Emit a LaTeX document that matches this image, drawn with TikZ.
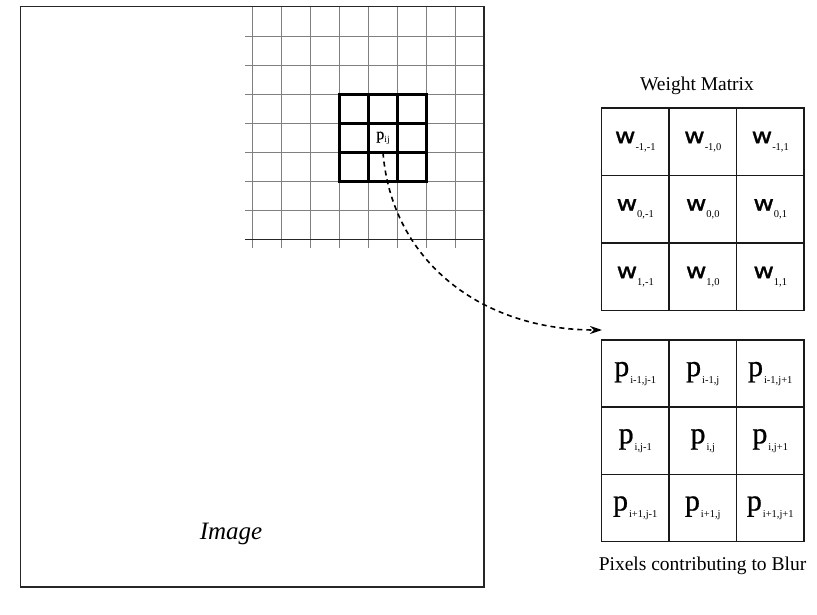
\documentclass[tikz,border=0pt]{standalone}
\usepackage{fontspec}
\setmainfont{Liberation Serif}
\newfontfamily\wfont[FakeBold=1.2]{DejaVu Sans}
\newfontfamily\pfont[FakeBold=0.8]{Liberation Serif}
\usetikzlibrary{arrows.meta}
\newcommand{\wlab}[1]{{\wfont\fontsize{21}{21}\selectfont\scalebox{1.2}[1]{w}}\raisebox{-7pt}{\fontsize{10.5}{10.5}\selectfont #1}}
\newcommand{\plab}[1]{{\pfont\fontsize{30}{30}\selectfont p}\kern1pt\raisebox{-7pt}{\fontsize{10.5}{10.5}\selectfont #1}}
\tikzset{
  frame/.style={draw=black!85, line width=1.5pt},
  gridline/.style={draw=black!50, line width=1.3pt},
  boldline/.style={draw=black, line width=2.6pt},
  cell/.style={draw=black!90, line width=1.5pt, minimum width=67.5pt, minimum height=67.5pt, inner sep=0pt, outer sep=0pt},
  pcell/.style={cell, minimum height=67.2pt},
  gcell/.style={minimum width=29pt, minimum height=29pt, inner sep=0pt},
  caption/.style={font=\fontsize{19.5}{22}\selectfont, inner sep=0pt, anchor=base},
  flow/.style={line width=1.6pt, dash pattern=on 5pt off 4pt, -{Stealth[length=12pt,width=8pt]}}
}
\begin{document}
\begin{tikzpicture}[x=1pt,y=-1pt]
\useasboundingbox (0,0) rectangle (817,615);
% grid
\foreach \i in {0,...,7} {
  \draw[gridline] (252.5+29*\i,6) -- (252.5+29*\i,248);
}
\foreach \j in {0,...,6} {
  \draw[gridline] (245,36.5+29*\j) -- (483,36.5+29*\j);
}
\draw[frame] (245,239.5) -- (483,239.5);
% image frame
\node[frame, minimum width=463.5pt, minimum height=580pt, inner sep=0pt, anchor=north west] (img) at (19.5,6) {};
\node[font=\fontsize{25}{27}\selectfont\itshape, inner sep=0pt, anchor=base] (imglabel) at (231,539) {Image};
% bold 3x3
\draw[boldline] (339.5,94.5) rectangle (426.5,181.5);
\draw[boldline] (368.5,94.5) -- (368.5,181.5);
\draw[boldline] (397.5,94.5) -- (397.5,181.5);
\draw[boldline] (339.5,123.5) -- (426.5,123.5);
\draw[boldline] (339.5,152.5) -- (426.5,152.5);
\node[gcell] (c) at (383,138) {{\pfont\fontsize{16}{16}\selectfont p}\raisebox{-3pt}{\fontsize{9.5}{9.5}\selectfont ij}};
% weight matrix
\node[caption] (wt) at (697,90.7) {Weight Matrix};
\node[cell] (w11) at (635.25,141.75) {\wlab{-1,-1}};
\node[cell] (w12) at (702.75,141.75) {\wlab{-1,0}};
\node[cell] (w13) at (770.25,141.75) {\wlab{-1,1}};
\node[cell] (w21) at (635.25,209.25) {\wlab{0,-1}};
\node[cell] (w22) at (702.75,209.25) {\wlab{0,0}};
\node[cell] (w23) at (770.25,209.25) {\wlab{0,1}};
\node[cell] (w31) at (635.25,276.75) {\wlab{1,-1}};
\node[cell] (w32) at (702.75,276.75) {\wlab{1,0}};
\node[cell] (w33) at (770.25,276.75) {\wlab{1,1}};
% pixel matrix
\node[pcell] (p11) at (635.25,373.6) {\plab{i-1,j-1}};
\node[pcell] (p12) at (702.75,373.6) {\plab{i-1,j}};
\node[pcell] (p13) at (770.25,373.6) {\plab{i-1,j+1}};
\node[pcell] (p21) at (635.25,440.8) {\plab{i,j-1}};
\node[pcell] (p22) at (702.75,440.8) {\plab{i,j}};
\node[pcell] (p23) at (770.25,440.8) {\plab{i,j+1}};
\node[pcell] (p31) at (635.25,508) {\plab{i+1,j-1}};
\node[pcell] (p32) at (702.75,508) {\plab{i+1,j}};
\node[pcell] (p33) at (770.25,508) {\plab{i+1,j+1}};
\node[caption] (pc) at (702.5,570.7) {Pixels contributing to Blur};
% arrow
\coordinate (tgt) at (602,330);
\draw[flow] (c.south) .. controls (392,262) and (482,330) .. (tgt);
\end{tikzpicture}
\end{document}
